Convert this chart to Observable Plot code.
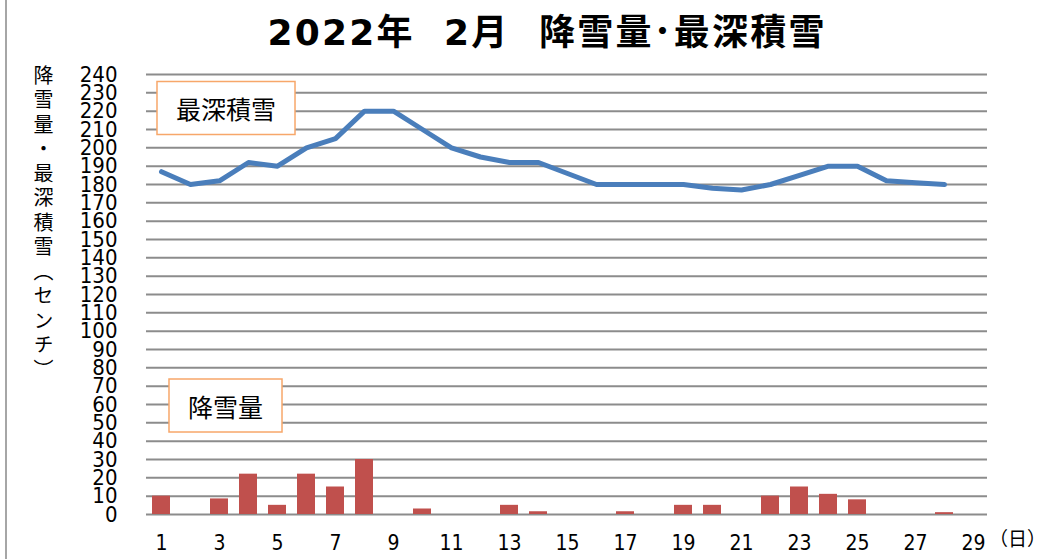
<!DOCTYPE html>
<html>
<head>
<meta charset="utf-8">
<script src="https://cdn.jsdelivr.net/npm/d3@7"></script>
<script src="https://cdn.jsdelivr.net/npm/@observablehq/plot@0.6"></script>
<style>
  body { margin: 0; background: #fff; }
  #chart { position: relative; width: 1047px; height: 559px; }
  #ytitle {
    position: absolute; left: 33px; top: 65px; width: 20px;
    writing-mode: vertical-rl; text-orientation: mixed;
    font-family: 'Noto Sans CJK JP', sans-serif; font-size: 20px; line-height: 20px;
    letter-spacing: 4.5px; color: #000; white-space: nowrap;
  }
</style>
</head>
<body>
<div id="chart"><div id="ytitle"></div></div>
<script>
// ---- data ----
const days = [1,2,3,4,5,6,7,8,9,10,11,12,13,14,15,16,17,18,19,20,21,22,23,24,25,26,27,28,29];
const snowfall = [10,0,8.5,22,5,22,15,30,0,3,0,0,5,1.5,0,0,1.5,0,5,5,0,10,15,11,8,0,0,1,null];
const snowDepth = [187,180,182,192,190,200,205,220,220,210,200,195,192,192,186,180,180,180,180,178,177,180,185,190,190,182,181,180,null];
const xTickLabels = [1,3,5,7,9,11,13,15,17,19,21,23,25,27,29];
const yTickLabels = [0,10,20,30,40,50,60,70,80,90,100,110,120,130,140,150,160,170,180,190,200,210,220,230,240];
const titleText = "2022年  2月  降雪量･最深積雪";
const yAxisTitle = "降雪量・最深積雪（センチ）";
const xUnit = "（日）";
const depthLabel = "最深積雪";
const snowLabel = "降雪量";

const barData = days.map((d, i) => ({day: d, value: snowfall[i]})).filter(d => d.value != null && d.value > 0);
const lineData = days.map((d, i) => ({day: d, value: snowDepth[i]})).filter(d => d.value != null);

const jp = "'Noto Sans CJK JP', 'Noto Sans', sans-serif";
const num = "'Liberation Sans Narrow', 'DejaVu Sans Condensed', 'Liberation Sans', sans-serif";
const titleFont = "'DejaVu Sans', 'Noto Sans CJK JP', sans-serif";

const chart = Plot.plot({
  width: 1047,
  height: 559,
  marginLeft: 146,
  marginRight: 60,
  marginTop: 74,
  marginBottom: 45,
  style: { background: "#fff", fontFamily: jp, color: "#000", overflow: "visible" },
  x: { type: "band", domain: days, paddingInner: 0.38, paddingOuter: 0.19, axis: null },
  y: { domain: [0, 240], axis: null },
  marks: [
    Plot.gridY(yTickLabels, { stroke: "#8c8c8c", strokeOpacity: 1, strokeWidth: 2 }),
    Plot.axisY(yTickLabels, { tickSize: 0, tickPadding: 29, fontSize: 22, fontFamily: num, fill: "#000", label: null }),
    Plot.axisX(xTickLabels, { tickSize: 0, tickPadding: 21, fontSize: 21, fontFamily: num, fill: "#000", label: null }),
    Plot.barY(barData, { x: "day", y: "value", fill: "#C0504D" }),
    Plot.lineY(lineData, { x: "day", y: "value", stroke: "#4A7EBB", strokeWidth: 5, strokeLinejoin: "round", strokeLinecap: "round" }),
    Plot.text([titleText], { frameAnchor: "top", dx: -20, dy: -41, lineAnchor: "middle", fontSize: 36, fontWeight: "bold", fontFamily: titleFont, fill: "#000", className: "title" }),
    Plot.text([xUnit], { frameAnchor: "bottom-right", dx: 30, dy: 25, lineAnchor: "middle", textAnchor: "middle", fontSize: 19, fontFamily: jp, fill: "#000" }),
    Plot.text([depthLabel], { frameAnchor: "top-left", dx: 79.5, dy: 36.5, lineAnchor: "middle", textAnchor: "middle", fontSize: 25, fontFamily: jp, fill: "#000", className: "anno" }),
    Plot.text([snowLabel], { frameAnchor: "top-left", dx: 79, dy: 334, lineAnchor: "middle", textAnchor: "middle", fontSize: 25, fontFamily: jp, fill: "#000", className: "anno" })
  ]
});

const holder = document.getElementById("chart");
holder.insertBefore(chart, holder.firstChild);
document.getElementById("ytitle").textContent = yAxisTitle;

const svg = d3.select(chart);
svg.selectAll("g.title text").style("letter-spacing", "2.2px");

// boxes behind annotation labels
svg.selectAll("g.anno text").each(function() {
  const b = this.getBBox();
  const padX = 19;
  const t = this.getAttribute("transform");
  const rect = d3.select(this.parentNode).insert("rect", "text")
    .attr("x", b.x - padX).attr("y", b.y + b.height / 2 - 26.5)
    .attr("width", b.width + 2 * padX).attr("height", 53)
    .attr("fill", "#fff").attr("stroke", "#F7A76A").attr("stroke-width", 1.5);
  if (t) rect.attr("transform", t);
});
// thin frame line at the left edge of the chart area
svg.insert("rect", ":first-child").attr("x", 5).attr("y", 0).attr("width", 2).attr("height", 559).attr("fill", "#a6a6a6");
</script>
</body>
</html>
